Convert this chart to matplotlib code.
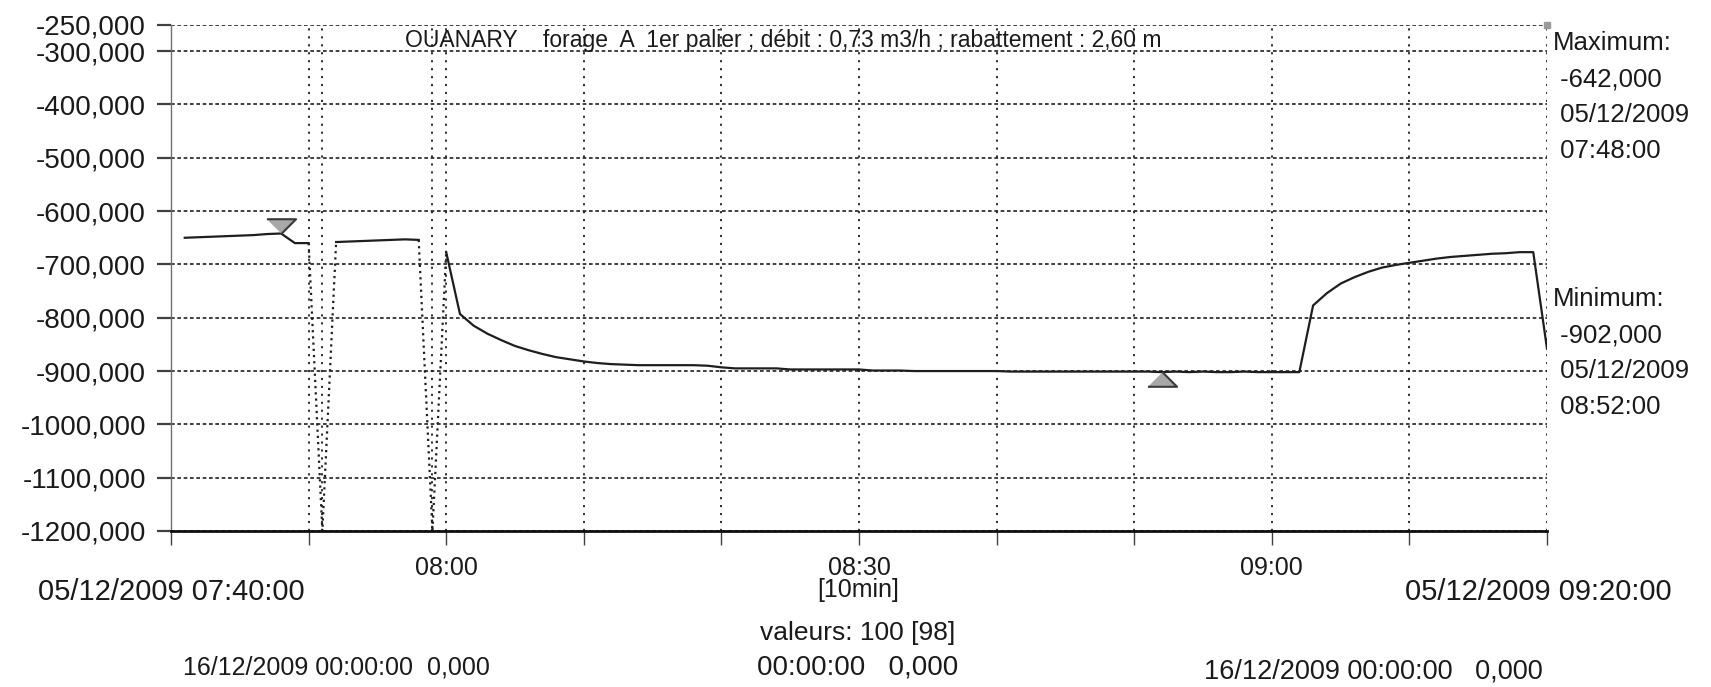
import numpy as np
import pandas as pd
import matplotlib
matplotlib.use("Agg")
import matplotlib.pyplot as plt
from matplotlib.transforms import offset_copy

plt.rcParams['font.family'] = ['Liberation Sans', 'DejaVu Sans']

# Figure size in pixels (dpi 100)
W, H = 1711, 687

# Recorded levels, one value per minute from 07:41 to 09:20 (None = invalid)
start = pd.Timestamp("2009-12-05 07:40:00")
minutes = np.arange(1, 101)
levels = [
    -650, -649, -648, -647, -646, -645, -643, -642, -660, -660,   # 07:41-07:50
    None, -658, -657, -656, -655, -654, -653, -654, None, -677,   # 07:51-08:00
    -793, -815, -830, -842, -853, -861, -868, -874, -878, -882,   # 08:01-08:10
    -885, -887, -888, -889, -889, -889, -889, -889, -890, -893,   # 08:11-08:20
    -895, -895, -895, -895, -897, -897, -897, -897, -897, -897,   # 08:21-08:30
    -899, -899, -899, -900, -900, -900, -900, -900, -900, -900,   # 08:31-08:40
    -901, -901, -901, -901, -901, -901, -901, -901, -901, -901,   # 08:41-08:50
    -901, -902, -901, -902, -901, -902, -902, -901, -902, -902,   # 08:51-09:00
    -902, -902, -777, -754, -736, -724, -714, -706, -701, -697,   # 09:01-09:10
    -693, -689, -686, -684, -682, -680, -679, -677, -677, -858,   # 09:11-09:20
]

yticks = [-250, -300, -400, -500, -600, -700, -800, -900, -1000, -1100, -1200]
xticks = [0, 10, 20, 30, 40, 50, 60, 70, 80, 90, 100]
xlabels = {20: "08:00", 50: "08:30", 80: "09:00"}

title = "OUANARY    forage  A  1er palier ; débit : 0,73 m3/h ; rabattement : 2,60 m"
interval = "[10min]"
count_text = "valeurs: 100 [98]"
foot_left = "16/12/2009 00:00:00  0,000"
foot_mid = "00:00:00   0,000"
foot_right = "16/12/2009 00:00:00   0,000"


def px(x, y):
    return x / W, 1 - y / H


def fmt(v):
    return f"{v:.3f}".replace(".", ",")


vals = np.array([np.nan if v is None else v for v in levels], dtype=float)
ymin, ymax = -1200, -250
ink = "#1a1a1a"

fig = plt.figure(figsize=(W / 100, H / 100), dpi=100)
ax = fig.add_axes([171 / W, 1 - 531 / H, (1547 - 171) / W, (531 - 24.5) / H])

line_col = "#1e1e1e"
ax.plot(minutes, vals, color=line_col, lw=1.6, zorder=3)

# invalid values: dotted drop to the bottom and a dotted marker line
bad = np.where(np.isnan(vals))[0]
for i in bad:
    xs = [minutes[i - 1], minutes[i], minutes[i + 1]]
    ys = [vals[i - 1], ymin, vals[i + 1]]
    ax.plot(xs, ys, color=line_col, lw=1.6, ls=(0, (1, 1.8)), zorder=3)
    ax.axvline(minutes[i], color="#202020", lw=1.3, ls=(0, (1.2, 3.2)), zorder=2)

ax.set_xlim(0, 100)
ax.set_ylim(ymin, ymax)
ax.set_yticks(yticks)
ax.set_yticklabels([fmt(v) for v in yticks])
ax.set_xticks(xticks)
ax.set_xticklabels([xlabels.get(t, "") for t in xticks])

for v in yticks:
    ax.axhline(v, color="#202020", lw=1.2, ls=(0, (2.2, 1.6)), zorder=1)
for t in xticks[1:]:
    ax.axvline(t, color="#202020", lw=1.3, ls=(0, (1.2, 3.2)), zorder=1)

for s in ["top", "right"]:
    ax.spines[s].set_visible(False)
ax.spines["left"].set_color("#707070")
ax.spines["left"].set_linewidth(1.0)
ax.spines["bottom"].set_color("#101010")
ax.spines["bottom"].set_linewidth(2.0)
ax.spines["bottom"].set_zorder(4)

ax.tick_params(axis="y", direction="out", length=10, width=1.6, color="#404040",
               labelsize=20, pad=8, labelcolor=ink)
ax.tick_params(axis="x", direction="out", length=10, width=1.0, color="#404040",
               labelsize=18, pad=8, labelcolor=ink)

# max / min markers
imax = int(np.nanargmax(vals))
imin = int(np.nanargmin(vals))
tri_down = [(-2, 1), (2, 1), (0, -1)]
tri_up = [(-2, -1), (2, -1), (0, 1)]
ax.plot(minutes[imax], vals[imax], marker=tri_down, ms=21, mfc="#a8a8a8", mec="#3a3a3a",
        mew=1.5, zorder=5, transform=offset_copy(ax.transData, fig, y=5.2, units="points"))
ax.plot(minutes[imin], vals[imin], marker=tri_up, ms=21, mfc="#a8a8a8", mec="#3a3a3a",
        mew=1.5, zorder=5, transform=offset_copy(ax.transData, fig, y=-5.2, units="points"))
ax.plot([1], [1], marker="s", ms=5, color="#9a9a9a", transform=ax.transAxes, clip_on=False)

# title inside the plot
fig.text(*px(783, 40), title, fontsize=16.5, ha="center", va="center", color=ink)

# max / min annotations
tmax = start + pd.Timedelta(minutes=int(minutes[imax]))
tmin = start + pd.Timedelta(minutes=int(minutes[imin]))
blocks = [
    (["Maximum:", " " + fmt(vals[imax]), " " + tmax.strftime("%d/%m/%Y"), " " + tmax.strftime("%H:%M:%S")], 43),
    (["Minimum:", " " + fmt(vals[imin]), " " + tmin.strftime("%d/%m/%Y"), " " + tmin.strftime("%H:%M:%S")], 299),
]
for lines, y0 in blocks:
    for k, s in enumerate(lines):
        fig.text(*px(1553, y0 + k * 36), s, fontsize=18.5, ha="left", va="center", color=ink)

# footer texts
end = start + pd.Timedelta(minutes=100)
fig.text(*px(38, 592), start.strftime("%d/%m/%Y %H:%M:%S"), fontsize=21, ha="left", va="center", color=ink)
fig.text(*px(1672, 592), end.strftime("%d/%m/%Y %H:%M:%S"), fontsize=21, ha="right", va="center", color=ink)
fig.text(*px(858, 590), interval, fontsize=18, ha="center", va="center", color=ink)
fig.text(*px(858, 633), count_text, fontsize=19, ha="center", va="center", color=ink)
fig.text(*px(183, 668), foot_left, fontsize=18, ha="left", va="center", color=ink)
fig.text(*px(858, 668), foot_mid, fontsize=20, ha="center", va="center", color=ink)
fig.text(*px(1204, 671), foot_right, fontsize=19.5, ha="left", va="center", color=ink)

fig.savefig("out.png", dpi=100)
